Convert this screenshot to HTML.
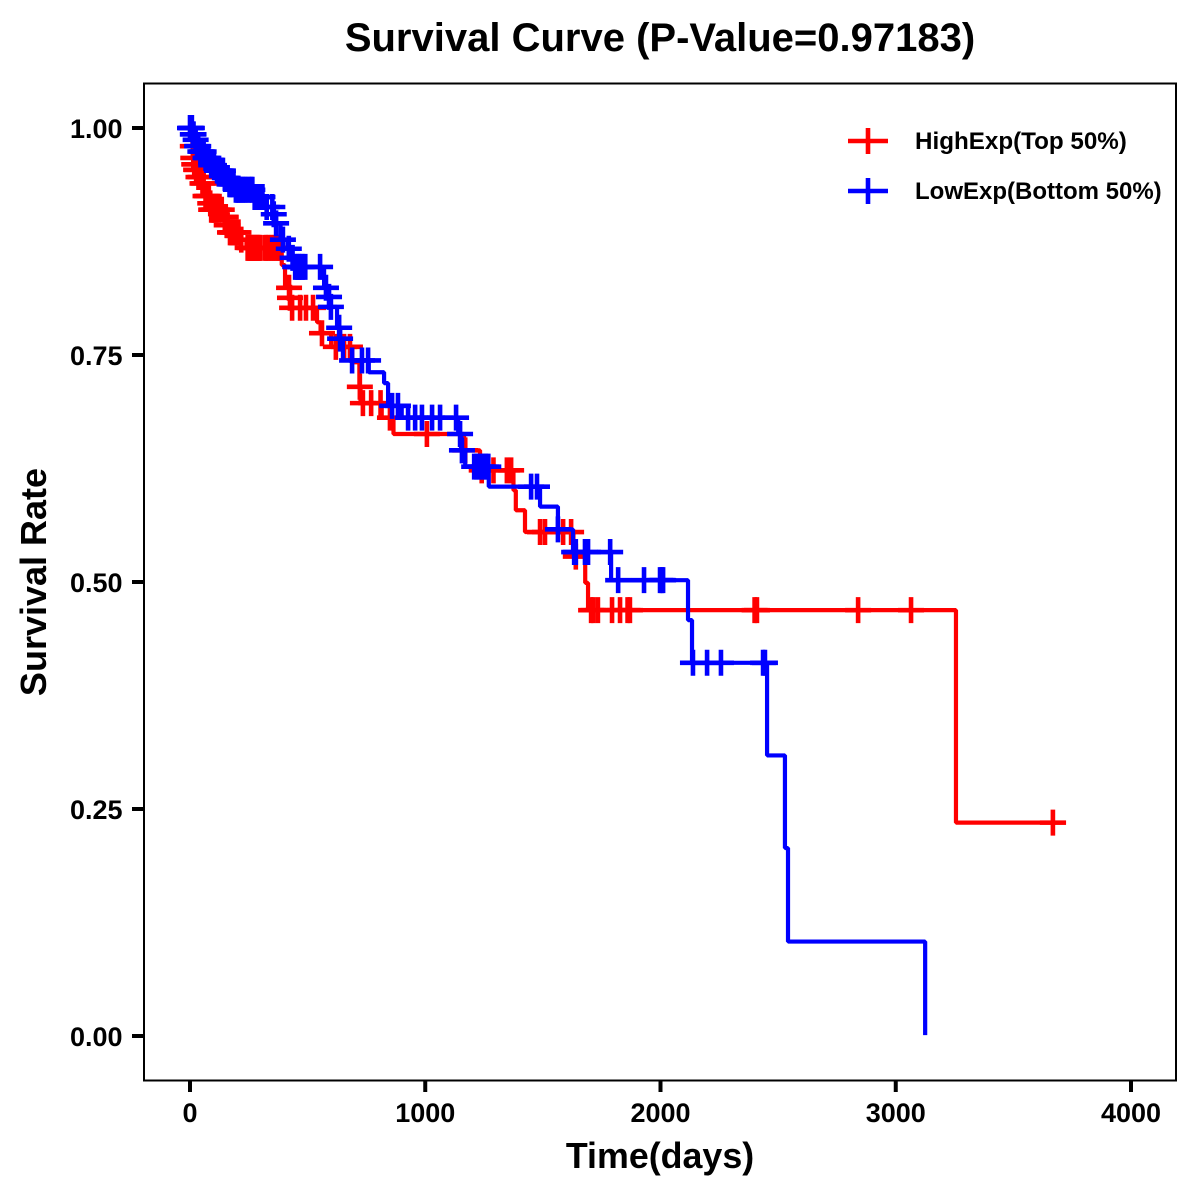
<!DOCTYPE html>
<html lang="en">
<head>
<meta charset="utf-8">
<title>Survival Curve</title>
<style>
html,body{margin:0;padding:0;background:#fff;}
svg{display:block;}
text{font-family:"Liberation Sans",Arial,sans-serif;font-weight:bold;fill:#000;}
</style>
</head>
<body>
<svg id="chart" xmlns="http://www.w3.org/2000/svg" width="1200" height="1200" viewBox="0 0 1200 1200">
  <rect x="0" y="0" width="1200" height="1200" fill="#fff"/>
  <text x="660" y="51" font-size="40" text-anchor="middle">Survival Curve (P-Value=0.97183)</text>
  <rect x="144" y="83.5" width="1032" height="997" fill="none" stroke="#000" stroke-width="2"/>
  <g id="x-axis"></g>
  <g id="y-axis"></g>
  <text x="660" y="1168" font-size="35.8" text-anchor="middle">Time(days)</text>
  <text transform="translate(46,582) rotate(-90)" font-size="36" text-anchor="middle">Survival Rate</text>
  <g id="series"></g>
  <g id="legend">
    <g>
      <path d="M848 141H888M868 128V154" stroke="#f00" stroke-width="4.6" fill="none"/>
      <text x="915" y="149" font-size="24.2">HighExp(Top 50%)</text>
    </g>
    <g>
      <path d="M848 191H888M868 178V204" stroke="#00f" stroke-width="4.6" fill="none"/>
      <text x="915" y="199" font-size="24">LowExp(Bottom 50%)</text>
    </g>
  </g>
</svg>
<script>
const xTickValues = [0, 1000, 2000, 3000, 4000];
const xTickLabels = ["0", "1000", "2000", "3000", "4000"];
const yTickValues = [0, 0.25, 0.5, 0.75, 1];
const yTickLabels = ["0.00", "0.25", "0.50", "0.75", "1.00"];

const highTimes = [0,6,10,13,17,24,33,50,62,85,88,146,155,165,215,240,390,404,424,430,540,555,600,690,720,725,815,865,1165,1233,1375,1385,1424,1630,1680,1692,3256];
const highSurv = [1,0.993,0.98,0.967,0.96,0.954,0.946,0.939,0.925,0.917,0.91,0.902,0.893,0.885,0.877,0.868,0.849,0.824,0.813,0.802,0.786,0.774,0.759,0.742,0.715,0.697,0.681,0.663,0.645,0.623,0.601,0.579,0.555,0.528,0.499,0.469,0.235];
const highEndTime = 3724;
const highCensorTimes = [12,14,18,21,26,30,36,45,53,58,66,72,80,86,90,96,102,108,114,122,135,148,152,156,160,170,176,182,190,200,206,218,245,250,255,260,265,270,275,280,285,290,295,300,320,325,335,345,355,365,375,383,421,425,434,468,493,523,561,620,655,680,722,735,770,810,850,1007,1170,1240,1290,1347,1365,1488,1509,1586,1620,1640,1705,1715,1734,1794,1828,1860,1870,2400,2410,2840,3065,3668];

const lowTimes = [0,10,22,28,40,60,85,110,145,165,190,270,315,352,362,385,415,432,445,570,585,595,625,636,650,760,825,842,900,1140,1152,1170,1270,1488,1564,1628,1790,2117,2134,2453,2529,2542,3125];
const lowSurv = [1,0.993,0.987,0.98,0.974,0.967,0.959,0.953,0.945,0.938,0.932,0.924,0.913,0.905,0.895,0.877,0.867,0.857,0.847,0.824,0.814,0.803,0.78,0.768,0.744,0.731,0.719,0.694,0.681,0.663,0.645,0.627,0.605,0.583,0.558,0.533,0.502,0.458,0.411,0.309,0.207,0.104,0.001];
const lowEndTime = 3125;
const lowCensorTimes = [0,2,5,8,12,15,24,30,35,44,50,58,66,72,78,90,96,102,115,120,125,130,135,140,148,154,160,168,172,178,185,195,200,205,210,218,225,232,240,250,260,265,275,282,290,300,308,326,350,356,366,395,420,436,447,455,462,470,478,490,553,578,591,599,634,638,689,731,757,859,884,927,957,986,1029,1063,1131,1148,1156,1208,1218,1228,1238,1248,1258,1268,1450,1475,1564,1633,1640,1679,1692,1786,1820,1930,1998,2005,2011,2138,2198,2257,2436,2444];

const NS = "http://www.w3.org/2000/svg";
const markerHalf = 13;

function xScale(t) { return 190 + t * 0.23525; }
function yScale(s) { return 1036 - s * 908; }

function survivalAt(t, times, surv) {
  let v = surv[0];
  for (let i = 0; i < times.length; i++) {
    if (times[i] <= t) v = surv[i];
  }
  return v;
}

const xAxis = document.getElementById("x-axis");
xTickValues.forEach(function (v, i) {
  const tick = document.createElementNS(NS, "line");
  
  
  tick.setAttribute("x1", xScale(v));
  tick.setAttribute("x2", xScale(v));
  tick.setAttribute("y1", 1081);
  tick.setAttribute("y2", 1092);
  tick.setAttribute("stroke", "#000");
  tick.setAttribute("stroke-width", 4);
  xAxis.appendChild(tick);
  const label = document.createElementNS(NS, "text");
  
  
  label.setAttribute("x", xScale(v));
  label.setAttribute("y", 1122);
  label.setAttribute("font-size", 27);
  label.setAttribute("text-anchor", "middle");
  label.textContent = xTickLabels[i];
  xAxis.appendChild(label);
});

const yAxis = document.getElementById("y-axis");
yTickValues.forEach(function (v, i) {
  const tick = document.createElementNS(NS, "line");
  
  
  tick.setAttribute("x1", 132);
  tick.setAttribute("x2", 144);
  tick.setAttribute("y1", yScale(v));
  tick.setAttribute("y2", yScale(v));
  tick.setAttribute("stroke", "#000");
  tick.setAttribute("stroke-width", 4);
  yAxis.appendChild(tick);
  const label = document.createElementNS(NS, "text");
  
  
  label.setAttribute("x", 122.5);
  label.setAttribute("y", yScale(v) + 10);
  label.setAttribute("font-size", 27);
  label.setAttribute("text-anchor", "end");
  label.textContent = yTickLabels[i];
  yAxis.appendChild(label);
});

function stepPath(times, surv, endTime) {
  let d = "M" + xScale(times[0]).toFixed(2) + " " + yScale(surv[0]).toFixed(2);
  for (let i = 1; i < times.length; i++) {
    d += "H" + xScale(times[i]).toFixed(2) + "V" + yScale(surv[i]).toFixed(2);
  }
  d += "H" + xScale(endTime).toFixed(2);
  return d;
}

const seriesGroup = document.getElementById("series");

function drawSeries(key, color, times, surv, endTime, censors) {
  const group = document.createElementNS(NS, "g");
  
  
  const line = document.createElementNS(NS, "path");
  
  
  line.setAttribute("d", stepPath(times, surv, endTime));
  line.setAttribute("fill", "none");
  line.setAttribute("stroke", color);
  line.setAttribute("stroke-width", 4.2);
  line.setAttribute("stroke-linejoin", "bevel");
  group.appendChild(line);
  censors.forEach(function (t) {
    const mark = document.createElementNS(NS, "path");
    
    
    const cx = xScale(t);
    const cy = yScale(survivalAt(t, times, surv));
    mark.setAttribute("d", "M" + (cx - markerHalf).toFixed(2) + " " + cy.toFixed(2) + "h" + (2 * markerHalf) + "M" + cx.toFixed(2) + " " + (cy - markerHalf).toFixed(2) + "v" + (2 * markerHalf));
    mark.setAttribute("fill", "none");
    mark.setAttribute("stroke", color);
    mark.setAttribute("stroke-width", 4.6);
    group.appendChild(mark);
  });
  seriesGroup.appendChild(group);
}

drawSeries("high", "#ff0000", highTimes, highSurv, highEndTime, highCensorTimes);
drawSeries("low", "#0000ff", lowTimes, lowSurv, lowEndTime, lowCensorTimes);
</script>
</body>
</html>
